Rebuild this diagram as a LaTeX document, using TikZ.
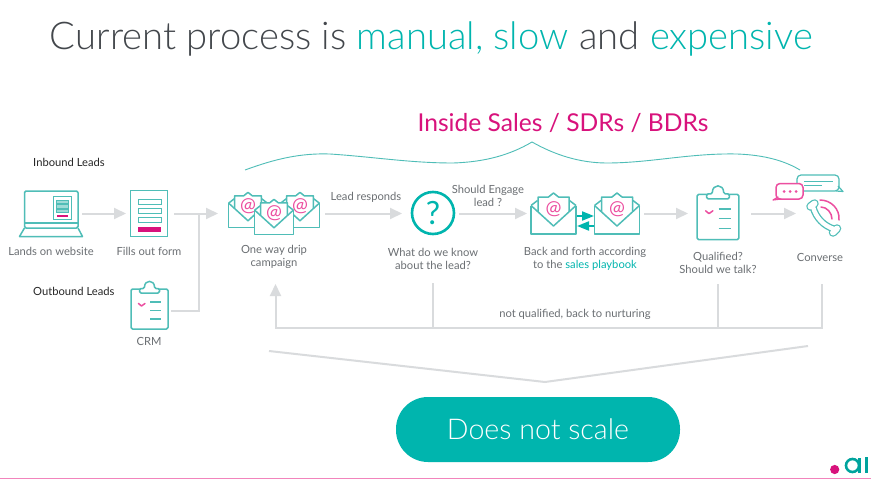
\documentclass[tikz,border=0pt]{standalone}
\usepackage{fontspec}
\setmainfont{Lato}
\newfontfamily\lightface{Lato}[UprightFont=* Light]
\usetikzlibrary{arrows.meta}
\definecolor{tealline}{HTML}{4FBDB7}
\definecolor{tealfill}{HTML}{00B5AE}
\definecolor{pinkline}{HTML}{EC4FA0}
\definecolor{magentaink}{HTML}{D8127C}
\definecolor{flowgrey}{HTML}{D9DBDD}
\definecolor{bodytext}{HTML}{6B6F73}
\definecolor{titletext}{HTML}{43474C}
\tikzset{
  iconline/.style={draw=tealline,line width=1.5pt,line join=round},
  pinkstroke/.style={draw=pinkline,line width=1.5pt,line cap=round,line join=round},
  flow/.style={draw=flowgrey,line width=2pt,-{Triangle[length=12pt,width=11pt]}},
  plainflow/.style={draw=flowgrey,line width=2pt},
  iconbox/.style={inner sep=0pt,outer sep=0pt,minimum height=20pt},
  caption/.style={text=bodytext,font=\fontsize{11.2}{13}\selectfont,align=center,inner sep=0pt},
  leadlabel/.style={text=black!85,font=\fontsize{11.2}{13}\selectfont,inner sep=0pt,anchor=west},
  pics/envelope/.style={code={
    \fill[white] (-22.5,-8) -- (-16,-13) -- (16,-13) -- (22.5,-8) -- (22.5,20.5) -- (-22.5,20.5) -- cycle;
    \draw[iconline] (-22.5,-8) -- (-22.5,20.5) -- (22.5,20.5) -- (22.5,-8);
    \draw[iconline] (-22.5,-8) -- (-16,-13);
    \draw[iconline] (22.5,-8) -- (16,-13);
    \draw[iconline,fill=white] (-15.5,-1.6) -- (-15.5,-16.5) -- (-5,-16.5) -- (0,-20.5) -- (5,-16.5) -- (15.5,-16.5) -- (15.5,-1.6);
    \fill[white] (-15.5,-1.6) -- (0,12.5) -- (15.5,-1.6) -- cycle;
    \draw[iconline] (-22.5,-8) -- (0,12.5) -- (22.5,-8);
    \node[text=pinkline,font=\fontsize{19}{19}\selectfont,inner sep=0pt] (at) at (0,-4.5) {@};
  }},
  pics/clipboard/.style={code={
    \draw[iconline,rounded corners=1.5pt] (-18.5,-20) rectangle (18.5,20);
    \draw[iconline,fill=white,rounded corners=1.5pt] (-10,-16) -- (-10,-20.5) -- (-5,-20.5) .. controls (-5,-29.5) and (5,-29.5) .. (5,-20.5) -- (10,-20.5) -- (10,-16) -- cycle;
    \draw[pinkstroke] (-11,-5.5) -- (-8,-3) -- (-4.5,-5.5);
    \draw[iconline] (0.5,-7) -- (11.5,-7);
    \draw[iconline] (0.5,1.5) -- (11.5,1.5);
    \draw[iconline] (0.5,10) -- (11.5,10);
  }},
}
\begin{document}
\begin{tikzpicture}[x=1pt,y=-1pt]
\useasboundingbox (0,0) rectangle (871,479);
\fill[white] (0,0) rectangle (871,479);

% Headings
\node[inner sep=0pt,text=titletext,font=\lightface\fontsize{38.2}{42}\selectfont] (title) at (431.5,38.5)
  {Current process is \textcolor{tealfill}{manual, slow} and \textcolor{tealfill}{expensive}};
\node[inner sep=0pt,text=magentaink,font=\fontsize{24.6}{28}\selectfont] (team) at (563,123) {Inside Sales / SDRs / BDRs};

% Brace above the sales stages
\draw[tealline,line width=0.9pt] (245,170) .. controls (275,159) and (300,153) .. (330,154)
  .. controls (375,157) and (410,163) .. (453,163)
  .. controls (485,162) and (510,155) .. (532,142)
  .. controls (555,155) and (580,163) .. (607,163)
  .. controls (650,163) and (690,153) .. (737,154)
  .. controls (765,155) and (785,161) .. (800,170);

% Invisible frames around the icons; connectors run between them
\node[iconbox,minimum width=82pt] (site) at (41,213.5) {};
\node[iconbox,minimum width=48pt] (form) at (150,213.5) {};
\node[iconbox,minimum width=41pt] (crm) at (150.5,311) {};
\node[iconbox,minimum width=107pt] (drip) at (271.5,213.5) {};
\node[iconbox,minimum width=57pt] (ask) at (430.5,213.5) {};
\node[iconbox,minimum width=117pt] (talk) at (585.5,213.5) {};
\node[iconbox,minimum width=63pt] (qualify) at (719.5,213.5) {};
\node[iconbox,minimum width=50pt] (convert) at (821,213.5) {};
\coordinate (merge) at (199,213.5);
\coordinate (askdrop) at (433,283);
\coordinate (qualdrop) at (718,284);
\coordinate (convdrop) at (822,284);
\coordinate (busright) at (822,328);
\coordinate (busleft) at (275.5,328);
\coordinate (dripin) at (275.5,284);
\coordinate (scaleleft) at (269,351);
\coordinate (scalemid) at (545,382);
\coordinate (scaleright) at (808,346);

% Process flow
\draw[flow] (site.east) -- (form.west);
\draw[flow] (form.east) -- (drip.west);
\draw[plainflow] (crm.east) -| (merge);
\draw[flow] (drip.east) -- (ask.west);
\draw[flow] (ask.east) -- (talk.west);
\draw[flow] (talk.east) -- (qualify.west);
\draw[flow] (qualify.east) -- (convert.west);

% Nurturing loop
\draw[flow] (convdrop) -- (busright) -- (busleft) -- (dripin);
\draw[plainflow] (askdrop) -- (askdrop |- busleft);
\draw[plainflow] (qualdrop) -- (qualdrop |- busleft);
\draw[plainflow,line join=miter] (scaleleft) -- (scalemid) -- (scaleright);

% Laptop
\draw[iconline,rounded corners=1.5pt] (24.5,228) -- (24.5,191) -- (78,191) -- (78,228) -- cycle;
\draw[iconline] (24.5,223) -- (78,223);
\draw[iconline] (24.5,228) -- (19.5,236.5) -- (82.5,236.5) -- (78,228);
\draw[tealline,line width=0.9pt] (53,196) rectangle (71.5,219);
\fill[tealline!55] (56,200) rectangle (68,203) (56,204.5) rectangle (68,208) (56,209.5) rectangle (68,212.5);
\draw[tealline,line width=0.6pt] (56,200) rectangle (68,203) (56,204.5) rectangle (68,208) (56,209.5) rectangle (68,212.5);
\fill[magentaink] (57,214.5) rectangle (67.5,216.5);

% Form
\draw[tealline,line width=1pt] (130.5,190.5) rectangle (167.5,236.5);
\draw[tealline,line width=1pt] (138,199) rectangle (161,204) (138,208) rectangle (161,213) (138,217) rectangle (161,222);
\fill[magentaink] (138,227) rectangle (161,232);

% CRM clipboard
\pic (crmboard) at (149.5,309) {clipboard};

% Drip envelopes
\pic[scale=0.86] (mailone) at (248,210) {envelope};
\pic[scale=0.86] (mailtwo) at (300,210) {envelope};
\pic[scale=0.86] (mailthree) at (274,217) {envelope};

% Question mark
\node[circle,draw=tealfill,line width=2.6pt,minimum size=42pt,inner sep=0pt,text=tealfill,font=\fontsize{32}{32}\selectfont] (question) at (433,213) {?};

% Back and forth envelopes
\pic (mailfour) at (553.5,213.5) {envelope};
\pic (mailfive) at (617,213.5) {envelope};
\coordinate (swapa) at (577,216);
\coordinate (swapb) at (594,216);
\coordinate (swapc) at (594,226);
\coordinate (swapd) at (577,226);
\draw[tealfill,line width=2pt,-{Triangle[length=12pt,width=9pt]}] (swapa) -- (swapb);
\draw[tealfill,line width=2pt,-{Triangle[length=12pt,width=9pt]}] (swapc) -- (swapd);

% Qualification clipboard
\pic[scale=1.13] (qualboard) at (718,217) {clipboard};

% Chat bubbles
\draw[iconline,line width=1.2pt,fill=white,rounded corners=4pt] (797,175) rectangle (839,191);
\draw[iconline,line width=1.2pt] (836,191) -- (843,191.5) -- (838,186);
\draw[tealline,line width=1pt] (804,181.5) -- (833,181.5) (804,185) -- (822,185);
\draw[pinkstroke,fill=white,rounded corners=4pt] (776,183.5) rectangle (803,199);
\draw[pinkstroke,line width=1.2pt] (778,197) -- (773,200) -- (781,199);
\fill[pinkline] (784,191.5) circle (1.5) (790,191.5) circle (1.5) (796,191.5) circle (1.5);

% Telephone handset
\draw[tealline,line width=7pt,line cap=round] (813,207) .. controls (816,218) and (824,226) .. (834,229);
\draw[tealline,line width=8.5pt,line cap=round] (810.5,206.5) -- (814.5,203.5) (833,232.5) -- (837,228.5);
\draw[white,line width=4.4pt,line cap=round] (813,207) .. controls (816,218) and (824,226) .. (834,229);
\draw[white,line width=6pt,line cap=round] (810.5,206.5) -- (814.5,203.5) (833,232.5) -- (837,228.5);
\draw[pinkstroke] (820,200) .. controls (831,200) and (840,209) .. (839,220);
\draw[pinkstroke] (821,207) .. controls (827,207) and (832,213) .. (832,219);

% Captions
\node[leadlabel] (inboundlabel) at (33,162) {Inbound Leads};
\node[leadlabel] (outboundlabel) at (33,291) {Outbound Leads};
\node[caption] (capsite) at (51,251) {Lands on website};
\node[caption] (capform) at (149,251) {Fills out form};
\node[caption] (capcrm) at (149,341) {CRM};
\node[caption] (capdrip) at (274,256.5) {One way drip\\campaign};
\node[caption] (capresponds) at (366,197) {Lead responds};
\node[caption] (capengage) at (488,196) {Should Engage\\lead ?};
\node[caption] (capask) at (433,259) {What do we know\\about the lead?};
\node[caption] (captalk) at (585,259) {Back and forth according\\to the \textcolor{tealfill}{sales playbook}};
\node[caption] (capqualify) at (718,263) {Qualified?\\Should we talk?};
\node[caption] (capconvert) at (820,257) {Converse};
\node[caption] (capnurture) at (575,314) {not qualified, back to nurturing};

% Conclusion button
\node[fill=tealfill,rounded corners=32pt,minimum width=284pt,minimum height=65pt,inner sep=0pt,text=white,font=\lightface\fontsize{28.6}{32}\selectfont] (verdict) at (538,429.5) {Does not scale};

% Logo and footer rule
\fill[magentaink] (834.7,469.5) circle (4.6);
\draw[tealfill!90!black,line width=2.6pt] (852.5,465.5) circle (6.5);
\draw[tealfill!90!black,line width=2.6pt] (859.7,458) -- (859.7,473);
\draw[tealfill!90!black,line width=2.8pt] (866.5,457) -- (866.5,473);
\fill[pinkline!70] (0,478) rectangle (871,479);
\end{tikzpicture}
\end{document}
